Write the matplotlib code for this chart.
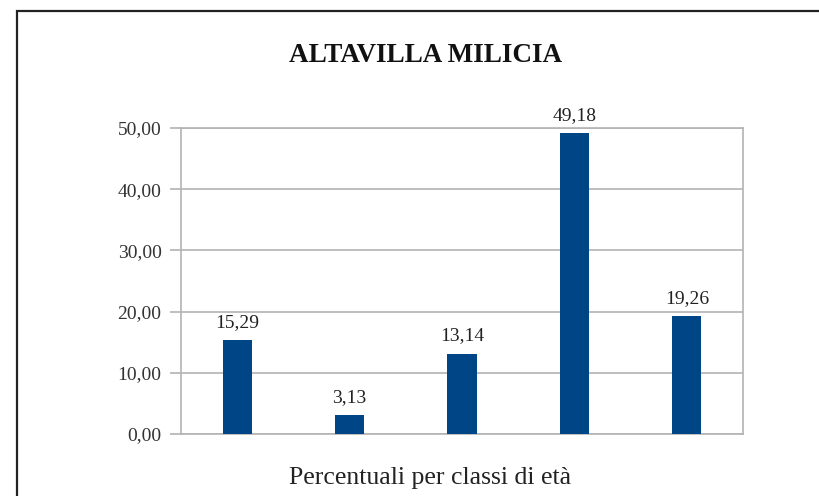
import matplotlib.pyplot as plt
from matplotlib.patches import Rectangle
import numpy as np

plt.rcParams['font.family'] = ['Liberation Serif', 'DejaVu Serif']

# data
classes = ['1', '2', '3', '4', '5']
values = [15.29, 3.13, 13.14, 49.18, 19.26]
labels = ['15,29', '3,13', '13,14', '49,18', '19,26']
yticks = [0, 10, 20, 30, 40, 50]
ytick_labels = ['0,00', '10,00', '20,00', '30,00', '40,00', '50,00']

W, H = 819, 496
fig = plt.figure(figsize=(W / 100, H / 100), dpi=100)

# outer frame of the chart (cut off at right and bottom)
fig.patches.append(Rectangle((16.5 / W, -0.1), 1.2, 1 - 10.5 / H + 0.1,
                             transform=fig.transFigure, fill=False,
                             edgecolor='#222222', linewidth=1.6))

ax = fig.add_axes([181 / W, 1 - 434 / H, (743 - 181) / W, (434 - 128) / H])
x = np.arange(len(classes))
ax.bar(x, values, width=0.26, color='#004586', zorder=3)
for xi, v, lab in zip(x, values, labels):
    ax.text(xi, v + 2.9, lab, ha='center', va='center', fontsize=14,
            color='#222222')

ax.set_xlim(-0.5, len(classes) - 0.5)
ax.set_ylim(0, 50)
ax.set_yticks(yticks)
ax.set_yticklabels(ytick_labels, fontsize=14, color='#333333')
ax.set_xticks([])
ax.grid(axis='y', color='#b3b3b3', linewidth=1.2, zorder=0)
for s in ax.spines.values():
    s.set_color('#b3b3b3')
    s.set_linewidth(1.2)
ax.tick_params(axis='y', length=8, width=1.2, color='#b3b3b3', pad=6)

fig.text(426 / W, 1 - 55 / H, 'ALTAVILLA MILICIA', ha='center', va='center',
         fontsize=19.5, fontweight='bold', color='#111111')
fig.text(430 / W, 1 - 478 / H, 'Percentuali per classi di età', ha='center',
         va='center', fontsize=18.5, color='#222222')

fig.savefig('out.png', dpi=100)
